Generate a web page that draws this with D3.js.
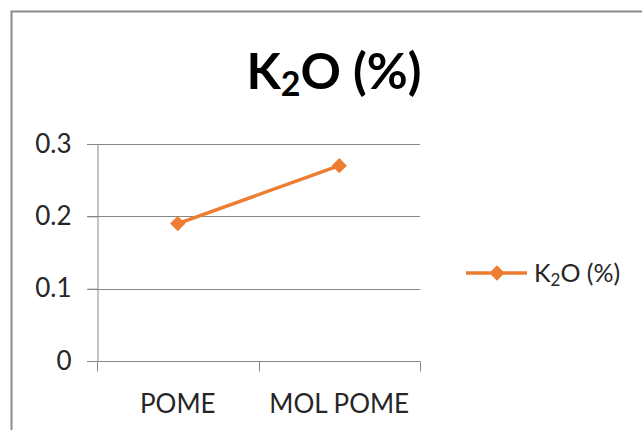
<!DOCTYPE html>
<html>
<head>
<meta charset="utf-8">
<script src="https://cdn.jsdelivr.net/npm/d3@7"></script>
<style>
  html, body { margin: 0; padding: 0; background: #fff; }
  svg { display: block; font-family: Lato, "Open Sans", "Liberation Sans", sans-serif; }
</style>
</head>
<body>
<svg id="chart" width="642" height="430"></svg>
<script>
// K2O content for each sample
const categories = ["POME", "MOL POME"];
const k2oValues = [0.19, 0.27];
const yTicks = [0, 0.1, 0.2, 0.3];
const seriesName = ["K", "2", "O (%)"];

const svg = d3.select("#chart");
const lineColor = "#ED7D31";
const gridColor = "#878787";

// chart frame
svg.append("path")
  .attr("d", "M11.5,430 V11.5 H642")
  .attr("fill", "none")
  .attr("stroke", "#8c8c8c")
  .attr("stroke-width", 2);

const plot = { left: 97, right: 420, top: 144, bottom: 361 };

const x = d3.scaleBand().domain(categories).range([plot.left, plot.right]).padding(0);
const y = d3.scaleLinear().domain([0, 0.3]).range([plot.bottom, plot.top]);

// horizontal gridlines
svg.append("g")
  .selectAll("line")
  .data(yTicks)
  .join("line")
  .attr("x1", plot.left - 10)
  .attr("x2", plot.right)
  .attr("y1", d => Math.round(y(d)) + 0.5)
  .attr("y2", d => Math.round(y(d)) + 0.5)
  .attr("stroke", gridColor)
  .attr("stroke-width", 1);

// y axis
const yAxis = svg.append("g")
  .attr("transform", `translate(${plot.left + 0.5},0)`)
  .call(d3.axisLeft(y).tickValues(yTicks).tickSize(10).tickPadding(16)
    .tickFormat(d => d === 0 ? "0" : d3.format(".1f")(d)));
yAxis.select(".domain").attr("stroke", gridColor);
yAxis.selectAll(".tick line").attr("stroke", gridColor);
yAxis.selectAll(".tick text")
  .attr("font-size", 26)
  .attr("fill", "#262626")
  .attr("font-family", "Lato, 'Open Sans', sans-serif");

// x axis with boundary ticks between categories
const xAxisG = svg.append("g")
  .attr("transform", `translate(0,${Math.round(y(0)) + 0.5})`);
xAxisG.append("line")
  .attr("x1", plot.left).attr("x2", plot.right)
  .attr("stroke", gridColor);
const bounds = categories.map(c => x(c)).concat([x(categories[categories.length - 1]) + x.bandwidth()]);
xAxisG.selectAll(".bt")
  .data(bounds)
  .join("line")
  .attr("class", "bt")
  .attr("x1", d => Math.round(d) + 0.5)
  .attr("x2", d => Math.round(d) + 0.5)
  .attr("y1", 0).attr("y2", 10)
  .attr("stroke", gridColor);
xAxisG.selectAll("text")
  .data(categories)
  .join("text")
  .attr("x", d => x(d) + x.bandwidth() / 2)
  .attr("y", 51)
  .attr("text-anchor", "middle")
  .attr("font-size", 26)
  .attr("fill", "#262626")
  .text(d => d);

// data line
const pts = categories.map((c, i) => [x(c) + x.bandwidth() / 2, y(k2oValues[i])]);
svg.append("path")
  .attr("d", d3.line()(pts))
  .attr("fill", "none")
  .attr("stroke", lineColor)
  .attr("stroke-width", 3.5)
  .attr("stroke-linecap", "round");

const diamond = d3.symbol().type(d3.symbolDiamond2).size(150);
svg.append("g")
  .selectAll("path")
  .data(pts)
  .join("path")
  .attr("transform", d => `translate(${d[0]},${d[1]})`)
  .attr("d", diamond)
  .attr("fill", lineColor);

// subscripted label helper
function k2oLabel(sel, size, weight) {
  sel.attr("font-size", size).attr("font-weight", weight);
  sel.append("tspan").text(seriesName[0]);
  sel.append("tspan").attr("font-size", size * 0.68).attr("dy", size * 0.14).text(seriesName[1]);
  sel.append("tspan").attr("dy", -size * 0.14).text(seriesName[2]);
}

// title
const title = svg.append("text")
  .attr("x", 334)
  .attr("y", 89)
  .attr("text-anchor", "middle")
  .attr("fill", "#000");
k2oLabel(title, 50, 700);

// legend
const lg = svg.append("g").attr("transform", "translate(466,273)");
lg.append("line").attr("x1", 0).attr("x2", 61).attr("y1", 0).attr("y2", 0)
  .attr("stroke", lineColor).attr("stroke-width", 3.5);
lg.append("path").attr("transform", "translate(31,0)").attr("d", diamond).attr("fill", lineColor);
const lt = lg.append("text").attr("x", 68).attr("y", 9).attr("fill", "#262626");
k2oLabel(lt, 25, 400);
</script>
</body>
</html>
